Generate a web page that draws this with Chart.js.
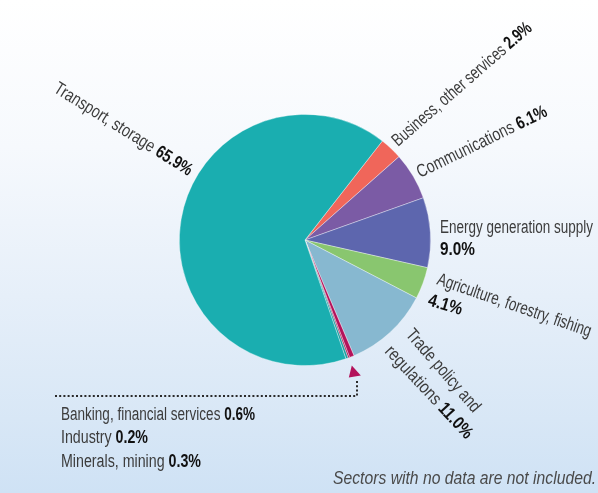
<!DOCTYPE html>
<html><head><meta charset="utf-8">
<script src="https://cdn.jsdelivr.net/npm/chart.js@4"></script>
<style>
html,body{margin:0;padding:0;width:598px;height:493px;overflow:hidden;
background:linear-gradient(to bottom,#ffffff 0%,#f6f9fd 30%,#e6eff9 60%,#d8e7f6 85%,#cfe2f5 100%);}
canvas{display:block}
</style>
</head><body>
<canvas id="c" width="598" height="493"></canvas>
<script>
const categories = ['Business, other services','Communications','Energy generation supply','Agriculture, forestry, fishing','Trade policy and regulations','Banking, financial services','Industry','Minerals, mining','Transport, storage'];
const shares = [2.9, 6.1, 9.0, 4.1, 11.0, 0.6, 0.2, 0.3, 65.9];
const shareLabels = ['2.9%','6.1%','9.0%','4.1%','11.0%','0.6%','0.2%','0.3%','65.9%'];
const sliceColors = ['#f0665a','#7b5ba5','#5d66ae','#89c66f','#87b8d0','#b3125a','#a8134f','#1a9ea0','#1aaeb0'];
const footnote = 'Sectors with no data are not included.';

const FONT = '"Liberation Sans Narrow","Liberation Sans",Arial,sans-serif';
const SIZE = 18;

function drawRich(ctx, x, y, rotDeg, segs, align, targetW, italic){
  ctx.save();
  ctx.translate(x, y);
  ctx.rotate(rotDeg*Math.PI/180);
  let total = 0;
  const ws = segs.map(s => { ctx.font = (italic?'italic ':'') + (s[1]?'bold ':'') + SIZE + 'px ' + FONT; const w = ctx.measureText(s[0]).width; total += w; return w; });
  const sx = targetW ? targetW/total : 1;
  ctx.scale(sx, 1);
  let cx = align === 'right' ? -total : 0;
  ctx.textBaseline = 'alphabetic';
  ctx.textAlign = 'left';
  segs.forEach((s,k) => {
    ctx.font = (italic?'italic ':'') + (s[1]?'bold ':'') + SIZE + 'px ' + FONT;
    ctx.fillStyle = s[1] ? '#111111' : (italic ? '#4a4a4a' : '#3c3c3c');
    ctx.fillText(s[0], cx, 0);
    cx += ws[k];
  });
  ctx.restore();
}

// label layout: polar anchor (deg clockwise from top, radius), rotation, alignment, fitted width
const labelLayout = [
  {segs:[[categories[8]+' ',0],[shareLabels[8],1]], pos:[298.7,133], rot:32, align:'right', w:160},
  {segs:[[categories[0]+' ',0],[shareLabels[0],1]], pos:[45,131.5], rot:-41, align:'left', w:179},
  {segs:[[categories[1]+' ',0],[shareLabels[1],1]], pos:[61.7,130.6], rot:-26, align:'left', w:143},
  {segs:[[categories[2],0]], pos:[87,135.2], rot:0, align:'left', w:153},
  {segs:[[shareLabels[2],1]], pos:[96.3,135.8], rot:0, align:'left', w:35},
  {segs:[[categories[3],0]], pos:[108.6,138.2], rot:19, align:'left', w:162},
  {segs:[[shareLabels[3],1]], pos:[118,138.2], rot:17, align:'left', w:35},
  {segs:[['Trade policy and',0]], pos:[133.5,137.9], rot:49, align:'left', w:104},
  {segs:[['regulations ',0],[shareLabels[4],1]], pos:[144.8,137], rot:47, align:'left', w:120}
];

const labelPlugin = {
  id:'labels',
  afterDraw(chart){
    const ctx = chart.ctx;
    const arc = chart.getDatasetMeta(0).data[0];
    const cx = arc.x, cy = arc.y;
    labelLayout.forEach(L => {
      const a = L.pos[0]*Math.PI/180, r = L.pos[1];
      drawRich(ctx, cx + r*Math.sin(a), cy - r*Math.cos(a), L.rot, L.segs, L.align, L.w, false);
    });
    drawRich(ctx, 61, 420, 0, [[categories[5]+' ',0],[shareLabels[5],1]], 'left', 194, false);
    drawRich(ctx, 61, 443, 0, [[categories[6]+' ',0],[shareLabels[6],1]], 'left', 87, false);
    drawRich(ctx, 61, 467, 0, [[categories[7]+' ',0],[shareLabels[7],1]], 'left', 140, false);
    ctx.save();
    ctx.strokeStyle = '#2a2a2a';
    ctx.lineWidth = 2;
    ctx.setLineDash([2,2.2]);
    ctx.beginPath();
    ctx.moveTo(55, 396); ctx.lineTo(357, 396); ctx.lineTo(357, 380);
    ctx.stroke();
    ctx.restore();
    const b = chart.getDatasetMeta(0).data[5];
    const mid = (b.startAngle + b.endAngle)/2;
    const tx = b.x + b.outerRadius*Math.cos(mid), ty = b.y + b.outerRadius*Math.sin(mid);
    ctx.save();
    ctx.fillStyle = '#b3125a';
    ctx.beginPath();
    ctx.moveTo(tx, ty + 9);
    ctx.lineTo(tx - 3, ty + 21);
    ctx.lineTo(tx + 9, ty + 19);
    ctx.closePath();
    ctx.fill();
    ctx.restore();
    drawRich(ctx, 596, 484, 0, [[footnote,0]], 'right', 263, true);
  }
};

new Chart(document.getElementById('c'), {
  type:'pie',
  data:{ labels:categories, datasets:[{ data:shares, backgroundColor:sliceColors, borderColor:'rgba(255,255,255,0.45)', borderWidth:0.8 }]},
  options:{
    responsive:false, animation:false, rotation:38,
    layout:{ padding:{ left:179, right:167, top:114, bottom:127 } },
    plugins:{ legend:{display:false}, tooltip:{enabled:false} }
  },
  plugins:[labelPlugin]
});
</script>
</body></html>
